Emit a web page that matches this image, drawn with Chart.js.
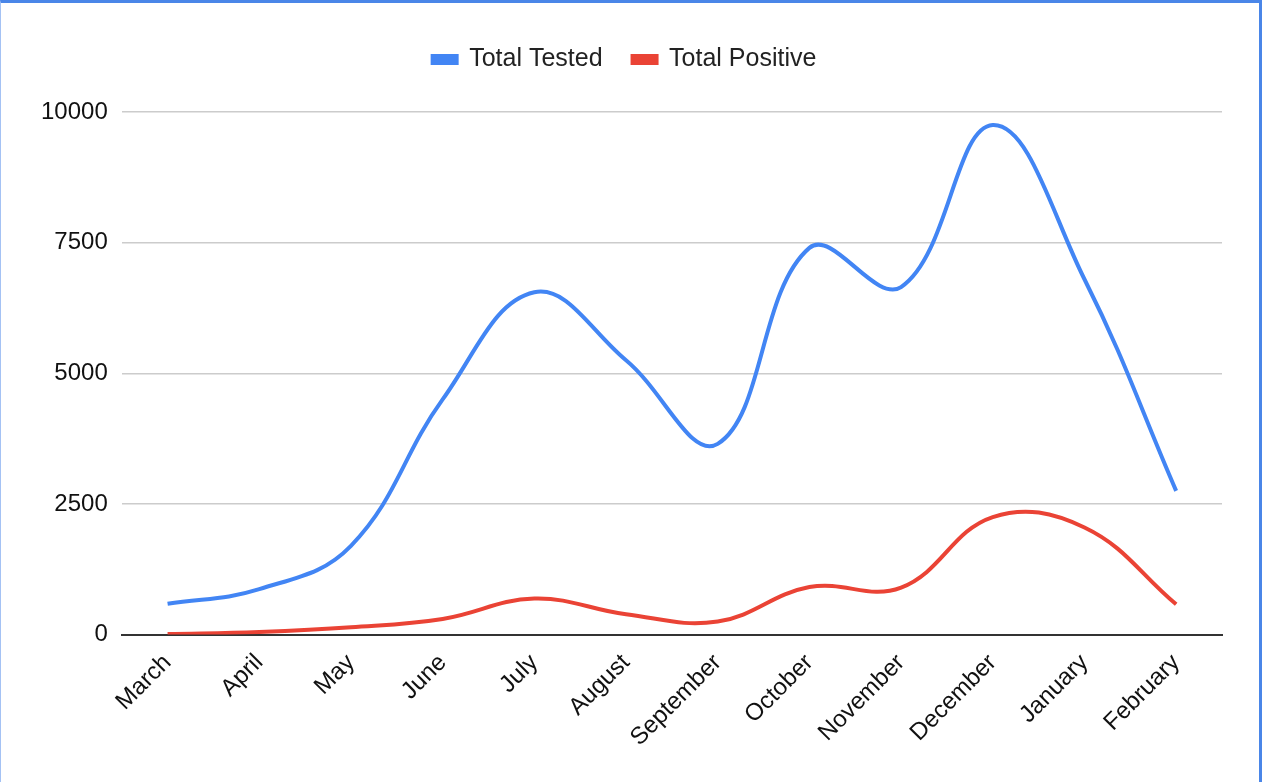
<!DOCTYPE html>
<html>
<head>
<meta charset="utf-8">
<title>Total Tested vs Total Positive</title>
<script src="https://cdn.jsdelivr.net/npm/chart.js@4"></script>
<style>
    html, body { margin: 0; padding: 0; background: #fff; }
    #wrap {
        width: 1258px;
        height: 779px;
        border-top: 3px solid #4a86e8;
        border-right: 3px solid #4a86e8;
        border-left: 1px solid #a4c2f4;
        position: relative;
    }
    canvas { display: block; }
</style>
</head>
<body>
<div id="wrap"><canvas id="chart"></canvas></div>
<script>
// Datos
const meses = ['March', 'April', 'May', 'June', 'July', 'August', 'September',
    'October', 'November', 'December', 'January', 'February'];
const totalTested = [590, 870, 1700, 4500, 6550, 5250, 3650, 7400, 6650, 9750, 6800, 2750];
const totalPositive = [10, 50, 140, 300, 690, 390, 250, 910, 900, 2250, 2050, 580];
const yTicks = [0, 2500, 5000, 7500, 10000];

document.addEventListener('DOMContentLoaded', function() {
    const ctx = document.getElementById('chart');
    const fuente = 'Arial, "Liberation Sans", sans-serif';

    // espacio extra bajo la leyenda
    const legendGap = {
        id: 'legendGap',
        beforeInit(chart) {
            const fitOrig = chart.legend.fit;
            chart.legend.fit = function() {
                fitOrig.bind(chart.legend)();
                this.height += 30;
            };
        }
    };

    new Chart(ctx, {
        type: 'line',
        data: {
            labels: meses,
            datasets: [{
                label: 'Total Tested',
                data: totalTested,
                borderColor: '#4285f4',
                backgroundColor: '#4285f4',
                borderWidth: 4,
                pointRadius: 0,
                tension: 0.4
            }, {
                label: 'Total Positive',
                data: totalPositive,
                borderColor: '#ea4335',
                backgroundColor: '#ea4335',
                borderWidth: 4,
                pointRadius: 0,
                tension: 0.4
            }]
        },
        options: {
            responsive: true,
            maintainAspectRatio: false,
            animation: false,
            layout: {
                padding: { top: 14, left: 26, right: 37, bottom: 24 }
            },
            plugins: {
                legend: {
                    position: 'top',
                    labels: {
                        boxWidth: 24,
                        boxHeight: 7,
                        padding: 30,
                        color: '#222',
                        font: { family: fuente, size: 25 }
                    }
                },
                tooltip: { enabled: false }
            },
            scales: {
                x: {
                    offset: true,
                    grid: { display: false },
                    border: { color: '#333', width: 2 },
                    ticks: {
                        minRotation: 45,
                        maxRotation: 45,
                        padding: 6,
                        color: '#111',
                        font: { family: fuente, size: 24 }
                    }
                },
                y: {
                    min: 0,
                    max: 10000,
                    afterBuildTicks(axis) {
                        axis.ticks = yTicks.map(v => ({ value: v }));
                    },
                    border: { display: false },
                    grid: {
                        color: c => c.tick && c.tick.value === 0 ? '#333' : '#cccccc',
                        lineWidth: c => c.tick && c.tick.value === 0 ? 2 : 1.5,
                        drawTicks: false
                    },
                    ticks: {
                        padding: 14,
                        color: '#111',
                        font: { family: fuente, size: 24 },
                        callback: v => String(v)
                    }
                }
            }
        },
        plugins: [legendGap]
    });
});
</script>
</body>
</html>
